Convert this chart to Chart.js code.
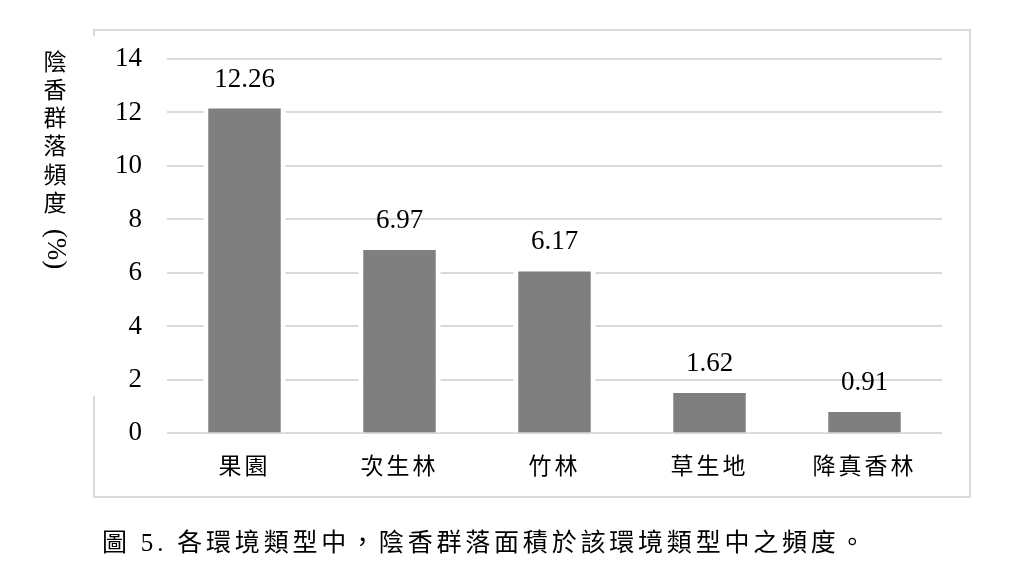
<!DOCTYPE html>
<html>
<head>
<meta charset="utf-8">
<script src="https://cdn.jsdelivr.net/npm/chart.js@4.4.1/dist/chart.umd.min.js"></script>
<style>
  html, body { margin: 0; padding: 0; background: #fff; }
  #wrap { position: relative; width: 1024px; height: 583px; }
  #caption {
    position: absolute;
    left: 102px;
    top: 530px;
    font-family: "Liberation Serif", "Noto Sans CJK TC", serif;
    font-size: 25px;
    line-height: 25px;
    letter-spacing: 3.8px;
    color: #000;
    white-space: nowrap;
  }
</style>
</head>
<body>
<div id="wrap">
  <canvas id="bar-chart" width="1024" height="583"></canvas>
  <div id="caption">圖 5. 各環境類型中，陰香群落面積於該環境類型中之頻度。</div>
</div>
<script>
const habitats = ["果園", "次生林", "竹林", "草生地", "降真香林"];

const frequency = [12.26, 6.97, 6.17, 1.62, 0.91];

const yTitleChars = ["陰", "香", "群", "落", "頻", "度"];
const yTitleUnit = "(%)";

// outer frame, left side is broken like in the original figure
const framePlugin = {
  id: "frame",
  beforeDraw: (chart) => {
    const ctx = chart.ctx;
    ctx.save();
    ctx.strokeStyle = "#d9d9d9";
    ctx.lineWidth = 2;
    ctx.beginPath();
    ctx.moveTo(94, 36);
    ctx.lineTo(94, 30);
    ctx.lineTo(970, 30);
    ctx.lineTo(970, 497);
    ctx.lineTo(94, 497);
    ctx.lineTo(94, 396);
    ctx.stroke();
    ctx.restore();

    // spaced out category labels
    const xs = chart.scales.x;
    if (xs && !xs._spaced) {
      const orig = xs.drawLabels;
      xs.drawLabels = function (area) {
        this.ctx.save();
        this.ctx.letterSpacing = "3px";
        orig.call(this, area);
        this.ctx.restore();
      };
      xs._spaced = true;
    }
  },
  afterDraw: (chart) => {
    // vertical y axis title
    const ctx = chart.ctx;
    ctx.save();
    ctx.fillStyle = "#000";
    ctx.textAlign = "center";
    ctx.textBaseline = "middle";
    ctx.font = '23px "Noto Sans CJK TC"';
    yTitleChars.forEach((ch, i) => {
      ctx.fillText(ch, 55, 61 + i * 28.2);
    });
    ctx.translate(55, 249);
    ctx.rotate(Math.PI / 2);
    ctx.font = '27px "Liberation Serif"';
    ctx.fillText(yTitleUnit, 0, 0);
    ctx.restore();
  },
};

const valueLabels = {
  id: "valueLabels",
  afterDatasetsDraw: (chart) => {
    const ctx = chart.ctx;
    const meta = chart.getDatasetMeta(0);
    ctx.save();
    ctx.fillStyle = "#000";
    ctx.textAlign = "center";
    ctx.textBaseline = "alphabetic";
    ctx.font = '27px "Liberation Serif"';
    meta.data.forEach((bar, i) => {
      ctx.fillText(frequency[i].toFixed(2), bar.x, bar.y - 19);
    });
    ctx.restore();
  },
};

const myChart = new Chart("bar-chart", {
  type: "bar",
  data: {
    labels: habitats,
    datasets: [
      {
        data: frequency,
        backgroundColor: "#7f7f7f",
        borderColor: "#ffffff",
        borderWidth: { left: 5, right: 5, top: 3, bottom: 0 },
        borderSkipped: "start",
        barPercentage: 0.532,
        categoryPercentage: 1,
      },
    ],
  },
  options: {
    responsive: false,
    animation: false,
    layout: {
      padding: {
        top: 59,
        left: 90,
        right: 82,
        bottom: 86,
      },
    },
    scales: {
      y: {
        min: 0,
        max: 14,
        border: { display: false },
        grid: {
          color: "#d9d9d9",
          lineWidth: 2,
          drawTicks: false,
        },
        ticks: {
          stepSize: 2,
          padding: 25,
          color: "#000",
          font: { family: "Liberation Serif", size: 27 },
        },
      },
      x: {
        border: { display: false },
        grid: { display: false, drawTicks: false },
        ticks: {
          padding: 18,
          color: "#000",
          font: { family: "Noto Sans CJK TC", size: 23, lineHeight: 1.2 },
        },
      },
    },
    plugins: {
      legend: { display: false },
      tooltip: { enabled: false },
    },
  },
  plugins: [framePlugin, valueLabels],
});
</script>
</body>
</html>
